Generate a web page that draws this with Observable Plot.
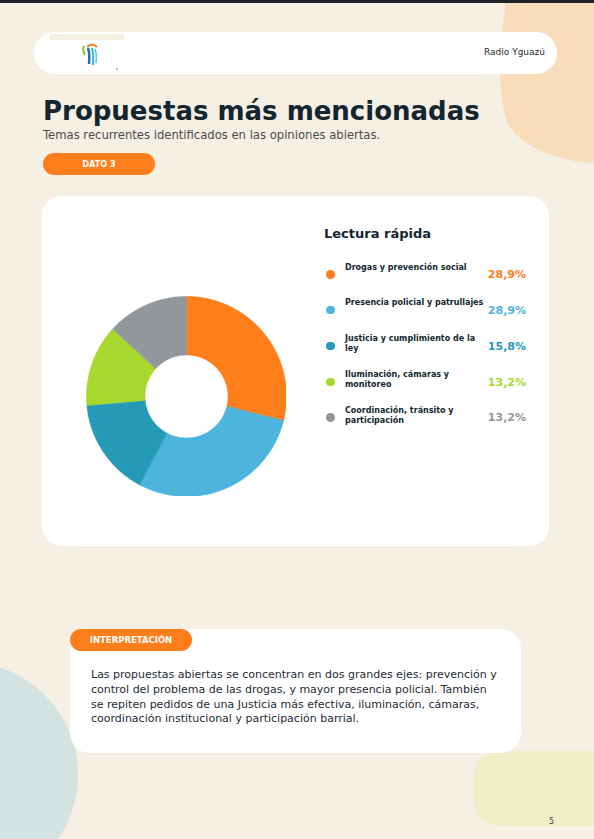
<!DOCTYPE html>
<html>
<head>
<meta charset="utf-8">
<script src="https://cdn.jsdelivr.net/npm/d3@7"></script>
<script src="https://cdn.jsdelivr.net/npm/@observablehq/plot@0.6"></script>
<style>
html,body{margin:0;padding:0;}
body{width:594px;height:839px;position:relative;overflow:hidden;background:#f5efe4;font-family:"DejaVu Sans",sans-serif;}
.abs{position:absolute;}
#header{left:34px;top:32px;width:523px;height:42px;background:#fff;border-radius:21px;}
#brand{right:12px;top:0;line-height:40px;font-size:9px;color:#1f2a30;}
#title{left:43px;top:98px;font-size:26px;line-height:26px;font-weight:bold;color:#13262f;white-space:nowrap;}
#subtitle{left:43px;top:129px;font-size:11.6px;line-height:12px;color:#4b4b4b;white-space:nowrap;}
.pill{background:#fd7e1b;color:#fff;font-weight:bold;text-align:center;border-radius:11px;}
#dato{left:43px;top:153px;width:112px;height:22px;line-height:22px;font-size:8.2px;}
#card{left:42px;top:196px;width:507px;height:350px;background:#fff;border-radius:20px;}
#donut{left:86px;top:296px;width:200px;height:200px;}
#ltitle{left:324px;top:227px;font-size:13px;line-height:13px;font-weight:bold;color:#13262f;white-space:nowrap;}
.ldot{width:8.6px;height:8.6px;border-radius:50%;}
.llab{width:142px;font-size:8px;line-height:10px;font-weight:bold;color:#13262f;}
.lval{width:60px;text-align:right;font-size:11px;line-height:11px;font-weight:bold;}
#ibox{left:70px;top:629px;width:451px;height:124px;background:#fff;border-radius:20px;}
#ipill{left:70px;top:629px;width:122px;height:22px;line-height:22px;font-size:8.5px;}
#itext{left:91px;top:668px;font-size:11px;line-height:14.8px;color:#1d2b35;white-space:nowrap;}
#page{left:549px;top:817px;font-size:8px;line-height:10px;color:#444;}
</style>
</head>
<body>
<svg class="abs" width="594" height="839" style="left:0;top:0">
  <path d="M506,3 C499,45 496,95 509,126 C526,150 560,161 594,163 L594,3 Z" fill="#f9dcb9"/>
  <circle cx="-35" cy="775" r="113" fill="#d4e2e1"/>
  <rect x="474" y="751" width="170" height="75" rx="25" fill="#eeeec7"/>
  <rect x="0" y="0" width="594" height="3" fill="#1f2226"/>
</svg>

<div id="header" class="abs">
  <svg class="abs" style="left:0;top:0" width="120" height="42">
    <rect x="16" y="2" width="74" height="6" fill="#f6efe2"/>
    <path d="M53,15 Q58,10 63,15" fill="none" stroke="#ef7d2a" stroke-width="2"/>
    <path d="M50,14 Q48,18 51,23" fill="none" stroke="#8cc63f" stroke-width="2.2"/>
    <path d="M54,16 Q56,22 55,32" fill="none" stroke="#1d6fae" stroke-width="2.4"/>
    <path d="M58,16 Q60,24 59,33" fill="none" stroke="#3db4e5" stroke-width="2"/>
    <path d="M61,17 Q63,23 62,31" fill="none" stroke="#5cc6ee" stroke-width="1.6"/>
    <rect x="82" y="36" width="1.5" height="2" fill="#d99"/>
  </svg>
  <div id="brand" class="abs">Radio Yguazú</div>
</div>

<div id="title" class="abs">Propuestas más mencionadas</div>
<div id="subtitle" class="abs">Temas recurrentes identificados en las opiniones abiertas.</div>
<div id="dato" class="abs pill">DATO 3</div>

<div id="card" class="abs"></div>
<div id="donut" class="abs"></div>
<div id="ltitle" class="abs">Lectura rápida</div>
<div id="legend"></div>

<div id="ibox" class="abs"></div>
<div id="ipill" class="abs pill">INTERPRETACIÓN</div>
<div id="itext" class="abs">Las propuestas abiertas se concentran en dos grandes ejes: prevención y<br>control del problema de las drogas, y mayor presencia policial. También<br>se repiten pedidos de una Justicia más efectiva, iluminación, cámaras,<br>coordinación institucional y participación barrial.</div>
<div id="page" class="abs">5</div>

<script>
const categories = [
  "Drogas y prevención social",
  "Presencia policial y patrullajes",
  "Justicia y cumplimiento de la ley",
  "Iluminación, cámaras y monitoreo",
  "Coordinación, tránsito y participación"
];
const values = [28.9, 28.9, 15.8, 13.2, 13.2];
const valueLabels = ["28,9%", "28,9%", "15,8%", "13,2%", "13,2%"];
const colors = ["#fd7e1b", "#4db5dd", "#2499b8", "#a6d82e", "#93979b"];

const rows = categories.map((c, i) => ({category: c, value: values[i]}));
const arcs = d3.pie().sort(null).value(d => d.value)(rows);
const R = 1, R0 = 0.415;
function slice(s) {
  const n = Math.max(8, Math.ceil((s.endAngle - s.startAngle) / 0.01));
  const pts = [];
  for (let k = 0; k <= n; k++) {
    const a = s.startAngle + (s.endAngle - s.startAngle) * k / n;
    pts.push([R * Math.sin(a), -R * Math.cos(a)]);
  }
  for (let k = n; k >= 0; k--) {
    const a = s.startAngle + (s.endAngle - s.startAngle) * k / n;
    pts.push([R0 * Math.sin(a), -R0 * Math.cos(a)]);
  }
  pts.push(pts[0]);
  return {type: "Feature", properties: {category: s.data.category}, geometry: {type: "Polygon", coordinates: [pts]}};
}
const features = arcs.map(slice);

const chart = Plot.plot({
  width: 200,
  height: 200,
  margin: 0,
  style: {background: "transparent"},
  projection: {
    type: "identity",
    domain: {type: "Polygon", coordinates: [[[-1, -1], [1, -1], [1, 1], [-1, 1], [-1, -1]]]}
  },
  color: {domain: categories, range: colors},
  marks: [
    Plot.geo(features, {fill: d => d.properties.category, stroke: d => d.properties.category, strokeWidth: 0.6})
  ]
});
document.getElementById("donut").appendChild(chart);

const legend = document.getElementById("legend");
categories.forEach((c, i) => {
  const cy = 274.3 + i * 35.85;
  const dot = document.createElement("div");
  dot.className = "abs ldot";
  dot.style.left = (330.7 - 4.3) + "px";
  dot.style.top = (cy - 4.3) + "px";
  dot.style.background = colors[i];
  legend.appendChild(dot);
  const lab = document.createElement("div");
  lab.className = "abs llab";
  lab.style.left = "345px";
  lab.style.top = (cy - 11.8) + "px";
  lab.textContent = c;
  legend.appendChild(lab);
  const val = document.createElement("div");
  val.className = "abs lval";
  val.style.left = (526 - 60) + "px";
  val.style.top = (cy - 5.3) + "px";
  val.style.color = colors[i];
  val.textContent = valueLabels[i];
  legend.appendChild(val);
});
</script>
</body>
</html>
